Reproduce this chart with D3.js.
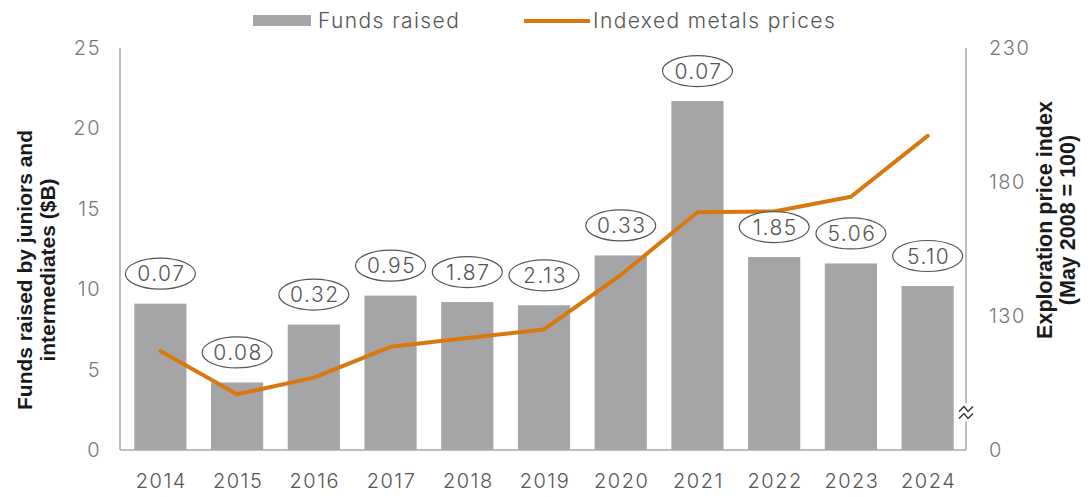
<!DOCTYPE html>
<html>
<head>
<meta charset="utf-8">
<script src="https://cdn.jsdelivr.net/npm/d3@7"></script>
<style>
  html, body { margin: 0; padding: 0; background: #fff; }
  svg { display: block; font-family: Inter, "Liberation Sans", Arial, sans-serif; }
  .title { font-family: "Liberation Sans", Arial, sans-serif; }
</style>
</head>
<body>
<svg id="chart" width="1089" height="497"></svg>
<script>
const years = ["2014","2015","2016","2017","2018","2019","2020","2021","2022","2023","2024"];
const fundsRaised = [9.1, 4.2, 7.8, 9.6, 9.2, 9.0, 12.1, 21.7, 12.0, 11.6, 10.2];
const metalsIndex = [116.9, 100.8, 107, 118.5, 121.8, 125, 145.3, 168.7, 169, 174.5, 197.2];
const bubbleLabels = ["0.07","0.08","0.32","0.95","1.87","2.13","0.33","0.07","1.85","5.06","5.10"];
const leftTicks = [0, 5, 10, 15, 20, 25];
const rightTicks = [80, 130, 180, 230];
const rightTickLabels = ["0", "130", "180", "230"];

const svg = d3.select("#chart");
const plotLeft = 120, plotRight = 966, plotTop = 48, plotBottom = 450;

const x = d3.scaleBand().domain(years).range([plotLeft + 2, plotRight]).paddingInner(0.32).paddingOuter(0.16);
const yL = d3.scaleLinear().domain([0, 25]).range([plotBottom, plotTop]);
const yR = d3.scaleLinear().domain([80, 230]).range([plotBottom, plotTop]);

const axisColor = "#a8a8a8";
const tickColor = "#777";
const ls = 1.5;

// bars
svg.append("g").selectAll("rect").data(years).join("rect")
  .attr("x", d => x(d))
  .attr("width", x.bandwidth())
  .attr("y", (d, i) => yL(fundsRaised[i]))
  .attr("height", (d, i) => plotBottom - yL(fundsRaised[i]))
  .attr("fill", "#a5a5a8");

// axis lines
svg.append("line").attr("x1", plotLeft).attr("x2", plotLeft).attr("y1", plotTop).attr("y2", plotBottom)
  .attr("stroke", axisColor).attr("stroke-width", 1.5);
svg.append("line").attr("x1", plotRight).attr("x2", plotRight).attr("y1", plotTop).attr("y2", plotBottom)
  .attr("stroke", axisColor).attr("stroke-width", 1.5);
svg.append("line").attr("x1", plotLeft).attr("x2", plotRight).attr("y1", plotBottom).attr("y2", plotBottom)
  .attr("stroke", axisColor).attr("stroke-width", 1.5);

// axis break on right axis
const brk = svg.append("g").attr("transform", `translate(${plotRight},${yR(94)})`);
brk.append("rect").attr("x", -3).attr("y", -9).attr("width", 6).attr("height", 18).attr("fill", "#fff");
[-4, 3].forEach(dy => {
  brk.append("path")
    .attr("d", `M-7,${dy+3} L-2,${dy-2} L2,${dy+3} L7,${dy-2}`)
    .attr("fill", "none").attr("stroke", "#333").attr("stroke-width", 1.4);
});

// left ticks
svg.append("g").selectAll("text").data(leftTicks).join("text")
  .attr("x", 101).attr("y", d => yL(d)).attr("dy", "0.35em")
  .attr("text-anchor", "end").attr("font-size", 20).attr("font-weight", 300).attr("fill", tickColor)
  .attr("letter-spacing", ls)
  .text(d => d);

// right ticks
svg.append("g").selectAll("text").data(rightTicks).join("text")
  .attr("x", 989).attr("y", d => yR(d)).attr("dy", "0.35em")
  .attr("text-anchor", "start").attr("font-size", 20).attr("font-weight", 300).attr("fill", tickColor)
  .attr("letter-spacing", ls)
  .text((d, i) => rightTickLabels[i]);

// x labels
svg.append("g").selectAll("text").data(years).join("text")
  .attr("x", d => x(d) + x.bandwidth() / 2 + 1).attr("y", 481).attr("dy", "0.35em")
  .attr("text-anchor", "middle").attr("font-size", 20).attr("font-weight", 300).attr("fill", "#555")
  .attr("letter-spacing", ls)
  .text(d => d);

// line
const line = d3.line().x((d, i) => x(years[i]) + x.bandwidth() / 2).y(d => yR(d));
svg.append("path").datum(metalsIndex).attr("d", line)
  .attr("fill", "none").attr("stroke", "#d9780f").attr("stroke-width", 4)
  .attr("stroke-linejoin", "round").attr("stroke-linecap", "round");

// bubble labels
const lbl = svg.append("g").selectAll("g").data(years).join("g")
  .attr("transform", (d, i) => `translate(${x(d) + x.bandwidth() / 2},${yL(fundsRaised[i]) - 30})`);
lbl.append("ellipse").attr("rx", 35).attr("ry", 15.5)
  .attr("fill", "#fff").attr("stroke", "#555").attr("stroke-width", 1.2);
lbl.append("text").attr("text-anchor", "middle").attr("dy", "0.36em").attr("x", 1)
  .attr("font-size", 21).attr("font-weight", 300).attr("fill", "#555")
  .attr("letter-spacing", ls)
  .text((d, i) => bubbleLabels[i]);

// legend
svg.append("rect").attr("x", 253).attr("y", 15).attr("width", 58).attr("height", 11).attr("fill", "#a5a5a8");
svg.append("text").attr("x", 318).attr("y", 21).attr("dy", "0.35em")
  .attr("font-size", 21).attr("font-weight", 300).attr("fill", "#555").attr("letter-spacing", 1.4)
  .text("Funds raised");
svg.append("line").attr("x1", 524).attr("x2", 590).attr("y1", 21).attr("y2", 21)
  .attr("stroke", "#d9780f").attr("stroke-width", 4);
svg.append("text").attr("x", 593).attr("y", 21).attr("dy", "0.35em")
  .attr("font-size", 21).attr("font-weight", 300).attr("fill", "#555").attr("letter-spacing", 1.4)
  .text("Indexed metals prices");

// left axis title
const lt = svg.append("text").attr("class", "title").attr("transform", "translate(42,270) rotate(-90)")
  .attr("text-anchor", "middle").attr("font-size", 21).attr("font-weight", "bold").attr("fill", "#1a1a1a");
lt.append("tspan").attr("x", 0).attr("y", -10).text("Funds raised by juniors and");
lt.append("tspan").attr("x", 0).attr("y", 13).text("intermediates ($B)");

// right axis title
const rt = svg.append("text").attr("class", "title").attr("transform", "translate(1054,220) rotate(-90)")
  .attr("text-anchor", "middle").attr("font-size", 21.5).attr("font-weight", "bold").attr("fill", "#1a1a1a");
rt.append("tspan").attr("x", 0).attr("y", -2).text("Exploration price index");
rt.append("tspan").attr("x", 0).attr("y", 21).text("(May 2008 = 100)");
</script>
</body>
</html>
